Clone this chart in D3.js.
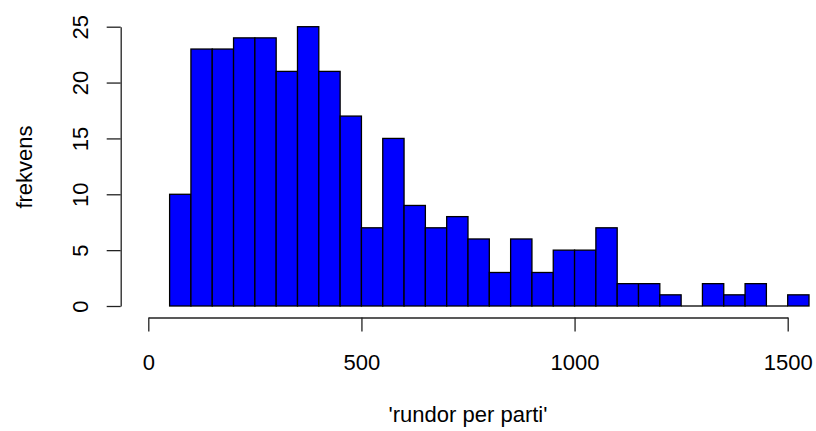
<!DOCTYPE html>
<meta charset="utf-8">
<script src="https://d3js.org/d3.v7.min.js"></script>
<style>
  body { margin: 0; background: #fff; }
  text { font-family: "Liberation Sans", Arial, Helvetica, sans-serif; fill: #000; }
</style>
<div id="my_dataviz"></div>
<script>
  // bins of width 50 (left edges) and their counts
  var binStarts = [50, 100, 150, 200, 250, 300, 350, 400, 450, 500, 550, 600, 650, 700, 750,
                   800, 850, 900, 950, 1000, 1050, 1100, 1150, 1200, 1250, 1300, 1350, 1400, 1450, 1500];
  var counts = [10, 23, 23, 24, 24, 21, 25, 21, 17, 7, 15, 9, 7, 8, 6,
                3, 6, 3, 5, 5, 7, 2, 2, 1, 0, 2, 1, 2, 0, 1];
  var binWidth = 50;
  var xTicks = [0, 500, 1000, 1500];
  var yTicks = [0, 5, 10, 15, 20, 25];

  var width = 816, height = 431;

  var svg = d3.select("#my_dataviz")
    .append("svg")
      .attr("width", width)
      .attr("height", height);

  var x = d3.scaleLinear().domain([0, 1500]).range([148.3, 787.7]);
  var y = d3.scaleLinear().domain([0, 25]).range([306, 26.7]);

  var data = binStarts.map(function(b, i) { return {x0: b, x1: b + binWidth, n: counts[i]}; });

  // Bars
  svg.selectAll("rect.bar")
    .data(data)
    .enter()
    .append("rect")
      .attr("class", "bar")
      .attr("x", function(d) { return x(d.x0); })
      .attr("width", function(d) { return x(d.x1) - x(d.x0); })
      .attr("y", function(d) { return y(d.n); })
      .attr("height", function(d) { return y(0) - y(d.n); })
      .attr("fill", "#0000ff")
      .attr("stroke", "#000")
      .attr("stroke-width", 1.3);

  // empty bins still get their bottom edge, like R does
  svg.selectAll("line.empty")
    .data(data.filter(function(d) { return d.n === 0; }))
    .enter()
    .append("line")
      .attr("class", "empty")
      .attr("x1", function(d) { return x(d.x0); })
      .attr("x2", function(d) { return x(d.x1); })
      .attr("y1", y(0))
      .attr("y2", y(0))
      .attr("stroke", "#000")
      .attr("stroke-width", 1.3);

  // X axis
  var xAxis = svg.append("g")
    .attr("transform", "translate(0,317.5)")
    .call(d3.axisBottom(x).tickValues(xTicks).tickFormat(d3.format("d"))
      .tickSize(14).tickSizeOuter(0).tickPadding(23));
  xAxis.select(".domain").attr("stroke", "#222").attr("stroke-width", 1.3);
  xAxis.selectAll(".tick line").attr("stroke", "#222").attr("stroke-width", 1.3);
  xAxis.selectAll("text").style("font-size", "22px").attr("fill", "#000");

  // Y axis
  var yAxis = svg.append("g")
    .attr("transform", "translate(120.7,0)")
    .call(d3.axisLeft(y).tickValues(yTicks).tickSize(14).tickSizeOuter(0));
  yAxis.select(".domain").attr("stroke", "#222").attr("stroke-width", 1.3);
  yAxis.selectAll(".tick line").attr("stroke", "#222").attr("stroke-width", 1.3);
  yAxis.selectAll("text")
    .style("font-size", "22px")
    .attr("fill", "#000")
    .attr("x", null).attr("dy", null)
    .attr("text-anchor", "middle")
    .attr("transform", "translate(-33,0) rotate(-90)");

  // Axis titles
  svg.append("text")
    .attr("x", 468)
    .attr("y", 422)
    .attr("text-anchor", "middle")
    .style("font-size", "22px")
    .text("'rundor per parti'");

  svg.append("text")
    .attr("transform", "translate(32,167) rotate(-90)")
    .attr("text-anchor", "middle")
    .style("font-size", "22px")
    .text("frekvens");
</script>
